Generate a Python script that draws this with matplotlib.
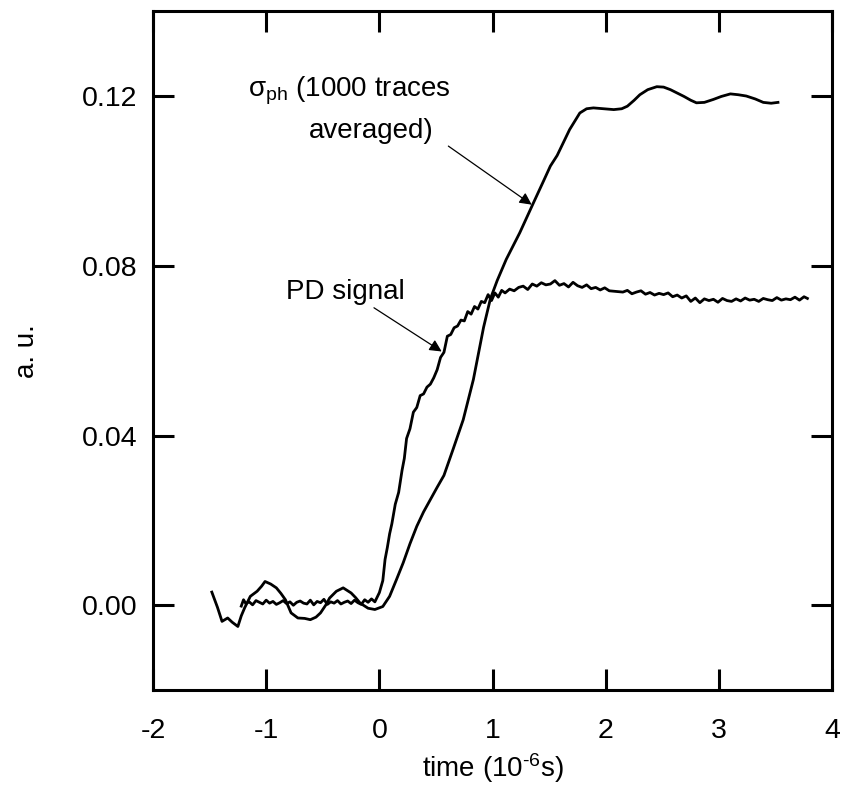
import numpy as np
import matplotlib
matplotlib.use("Agg")
import matplotlib.pyplot as plt

plt.rcParams['font.family'] = ['Liberation Sans', 'DejaVu Sans']
plt.rcParams['mathtext.fontset'] = 'custom'
plt.rcParams['mathtext.rm'] = 'Liberation Sans'
plt.rcParams['mathtext.it'] = 'Liberation Sans'

# sigma_ph trace (1000 traces averaged)
sig_t = [-1.48, -1.43, -1.39, -1.34, -1.30, -1.25, -1.22, -1.19, -1.14, -1.08,
         -1.04, -1.01, -0.96, -0.91, -0.87, -0.83, -0.78, -0.72, -0.66, -0.61,
         -0.56, -0.52, -0.47, -0.44, -0.38, -0.32, -0.25, -0.21, -0.17, -0.10,
         -0.04, 0.03, 0.09, 0.15, 0.21, 0.27, 0.33, 0.39, 0.45, 0.51,
         0.57, 0.65, 0.74, 0.83, 0.92, 0.98, 1.04, 1.12, 1.24, 1.36,
         1.45, 1.51, 1.57, 1.68, 1.77, 1.83, 1.89, 1.98, 2.07, 2.14,
         2.19, 2.25, 2.30, 2.37, 2.45, 2.51, 2.57, 2.63, 2.69, 2.75,
         2.80, 2.87, 2.95, 3.02, 3.10, 3.17, 3.24, 3.32, 3.39, 3.46, 3.52]
sig_v = [0.0031, -0.0005, -0.0038, -0.0030, -0.0040, -0.0050, -0.0025, -0.0006, 0.0021, 0.0033,
         0.0045, 0.0056, 0.0050, 0.0041, 0.0028, 0.0013, -0.0018, -0.0030, -0.0031, -0.0034,
         -0.0028, -0.0018, 0.0002, 0.0017, 0.0033, 0.0041, 0.0029, 0.0018, 0.0005, -0.0007,
         -0.0010, -0.0003, 0.0021, 0.0060, 0.0100, 0.0145, 0.0186, 0.0220, 0.0249, 0.0278,
         0.0306, 0.0367, 0.0437, 0.0532, 0.0655, 0.0722, 0.0765, 0.0815, 0.0878, 0.0948,
         0.1000, 0.1035, 0.1060, 0.1121, 0.1160, 0.1170, 0.1172, 0.1170, 0.1168, 0.1170,
         0.1176, 0.1190, 0.1203, 0.1215, 0.1222, 0.1221, 0.1215, 0.1207, 0.1199, 0.1190,
         0.1184, 0.1185, 0.1192, 0.1199, 0.1205, 0.1203, 0.1200, 0.1193, 0.1185, 0.1183, 0.1185]

# photodiode signal
pd_t = [-1.22, -1.20, -1.18, -1.15, -1.12, -1.09, -1.06, -1.03, -1.00, -0.97,
        -0.94, -0.91, -0.88, -0.85, -0.82, -0.79, -0.76, -0.73, -0.70, -0.67,
        -0.64, -0.61, -0.58, -0.55, -0.52, -0.49, -0.46, -0.43, -0.40, -0.37,
        -0.34, -0.31, -0.28, -0.25, -0.22, -0.19, -0.16, -0.13, -0.10, -0.07,
        -0.04, 0.00, 0.03, 0.05, 0.07, 0.09, 0.11, 0.14, 0.17, 0.20,
        0.22, 0.24, 0.27, 0.30, 0.33, 0.36, 0.39, 0.42, 0.45, 0.48,
        0.51, 0.54, 0.57, 0.60, 0.63, 0.66, 0.69, 0.72, 0.75, 0.78,
        0.81, 0.84, 0.87, 0.90, 0.93, 0.96, 0.99, 1.02, 1.05, 1.08,
        1.11, 1.15, 1.19, 1.23, 1.27, 1.31, 1.35, 1.39, 1.43, 1.47,
        1.51, 1.55, 1.59, 1.63, 1.67, 1.71, 1.75, 1.79, 1.83, 1.87,
        1.91, 1.95, 1.99, 2.03, 2.07, 2.11, 2.15, 2.19, 2.23, 2.27,
        2.31, 2.35, 2.39, 2.43, 2.47, 2.51, 2.55, 2.59, 2.63, 2.67,
        2.71, 2.75, 2.79, 2.83, 2.87, 2.91, 2.95, 2.99, 3.03, 3.07,
        3.11, 3.15, 3.19, 3.23, 3.27, 3.31, 3.35, 3.39, 3.43, 3.47,
        3.51, 3.55, 3.59, 3.63, 3.67, 3.71, 3.75, 3.78]
pd_v = [-0.0002, 0.0013, 0.0004, 0.0008, 0.0001, 0.0011, 0.0007, 0.0003, 0.0012, 0.0005,
        0.0009, 0.0002, 0.0006, 0.0011, 0.0004, 0.0008, 0.0000, 0.0007, 0.0010, 0.0005,
        0.0003, 0.0012, 0.0001, 0.0009, 0.0006, 0.0014, 0.0002, 0.0008, 0.0005, 0.0011,
        0.0003, 0.0007, 0.0010, 0.0004, 0.0012, 0.0006, 0.0002, 0.0013, 0.0007, 0.0015,
        0.0008, 0.0030, 0.0058, 0.0108, 0.0136, 0.0168, 0.0192, 0.0238, 0.0266, 0.0318,
        0.0346, 0.0393, 0.0416, 0.0455, 0.0466, 0.0494, 0.0498, 0.0514, 0.0521, 0.0536,
        0.0555, 0.0584, 0.0596, 0.0634, 0.0638, 0.0654, 0.0658, 0.0672, 0.0670, 0.0692,
        0.0686, 0.0704, 0.0698, 0.0716, 0.0713, 0.0732, 0.0718, 0.0736, 0.0726, 0.0742,
        0.0736, 0.0745, 0.0741, 0.0749, 0.0752, 0.0744, 0.0757, 0.0752, 0.0760, 0.0755,
        0.0757, 0.0765, 0.0754, 0.0758, 0.0750, 0.0761, 0.0753, 0.0749, 0.0755, 0.0746,
        0.0749, 0.0743, 0.0748, 0.0741, 0.0740, 0.0739, 0.0738, 0.0742, 0.0734, 0.0738,
        0.0741, 0.0733, 0.0737, 0.0731, 0.0735, 0.0732, 0.0736, 0.0727, 0.0731, 0.0724,
        0.0729, 0.0716, 0.0724, 0.0713, 0.0722, 0.0718, 0.0721, 0.0714, 0.0723, 0.0718,
        0.0716, 0.0722, 0.0717, 0.0724, 0.0719, 0.0721, 0.0716, 0.0723, 0.0720, 0.0718,
        0.0725, 0.0719, 0.0722, 0.0720, 0.0726, 0.0719, 0.0727, 0.0723]

xticks = [-2, -1, 0, 1, 2, 3, 4]
yticks = [0.00, 0.04, 0.08, 0.12]


def main():
    fig = plt.figure(figsize=(8.45, 7.96), dpi=100)
    ax = fig.add_axes([0.181, 0.133, 0.804, 0.853])

    ax.plot(sig_t, sig_v, color='k', lw=2.0)
    ax.plot(pd_t, pd_v, color='k', lw=2.0)

    ax.set_xlim(-2, 4)
    ax.set_ylim(-0.02, 0.14)
    ax.set_xticks(xticks)
    ax.set_xticklabels([str(t) for t in xticks])
    ax.set_yticks(yticks)
    ax.set_yticklabels([f"{t:.2f}" for t in yticks])

    for s in ax.spines.values():
        s.set_linewidth(2.2)
    ax.tick_params(axis='both', which='major', direction='in', length=15, width=2.2,
                   top=True, right=True, labelsize=20.5)
    ax.tick_params(axis='x', pad=20)
    ax.tick_params(axis='y', pad=11)

    ax.set_xlabel(r"time (10$^{\text{-}6}$s)", fontsize=20, labelpad=5)
    ax.set_ylabel("a. u.", fontsize=20, labelpad=30)

    ax.text(-1.16, 0.1211, r"σ$_{\mathrm{ph}}$ (1000 traces", fontsize=20,
            ha='left', va='center')
    ax.text(-0.62, 0.1117, "averaged)", fontsize=20, ha='left', va='center')
    ax.annotate("", xy=(1.345, 0.0944), xytext=(0.609, 0.1082),
                arrowprops=dict(arrowstyle='-|>', lw=0.9, color='k', mutation_scale=18,
                                shrinkA=0, shrinkB=0))

    ax.text(-0.304, 0.0737, "PD signal", fontsize=20, ha='center', va='center')
    ax.annotate("", xy=(0.550, 0.0598), xytext=(-0.048, 0.0701),
                arrowprops=dict(arrowstyle='-|>', lw=0.9, color='k', mutation_scale=18,
                                shrinkA=0, shrinkB=0))

    fig.savefig("out.png", dpi=100)


if __name__ == "__main__":
    main()
